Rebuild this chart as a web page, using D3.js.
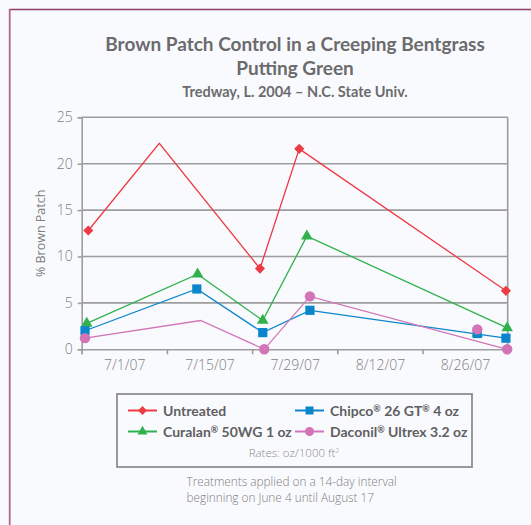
<!DOCTYPE html>
<html>
<head>
<meta charset="utf-8">
<script src="https://cdn.jsdelivr.net/npm/d3@7"></script>
<style>
  html, body { margin: 0; padding: 0; background: #f9fafd; }
  svg { display: block; }
  text { font-family: "Open Sans", "Noto Sans", sans-serif; }
  .hum { font-family: Lato, "Open Sans", sans-serif; }
</style>
</head>
<body>
<svg id="chart" width="531" height="525"></svg>
<script>
// ---------- data ----------
const titleLines = ["Brown Patch Control in a Creeping Bentgrass", "Putting Green"];
const subtitle = "Tredway, L. 2004 \u2013 N.C. State Univ.";
const yLabel = "% Brown Patch";
const yTicks = [0, 5, 10, 15, 20, 25];
const xLabelDates = ["2007-07-01 00", "2007-07-15 00", "2007-07-29 00", "2007-08-12 00", "2007-08-26 00"];
const xLabelText = ["7/1/07", "7/15/07", "7/29/07", "8/12/07", "8/26/07"];
const xTickDates = ["2007-06-24 00", "2007-07-08 00", "2007-07-22 00", "2007-08-05 00", "2007-08-19 00", "2007-09-02 00"];
const xDomain = ["2007-06-24 00", "2007-09-02 00"];

const untreatedDates = ["2007-06-25 02", "2007-07-06 18", "2007-07-23 07", "2007-07-29 18", "2007-09-01 17"];
const untreatedValues = [12.8, 22.2, 8.7, 21.6, 6.3];
const untreatedMarked = [true, false, true, true, true];

const curalanDates = ["2007-06-24 20", "2007-07-13 01", "2007-07-23 18", "2007-07-31 00", "2007-09-01 22"];
const curalanValues = [2.8, 8.1, 3.1, 12.2, 2.3];
const curalanMarked = [true, true, true, true, true];

const chipcoDates = ["2007-06-24 13", "2007-07-12 22", "2007-07-23 18", "2007-07-31 12", "2007-09-01 17"];
const chipcoValues = [2.0, 6.5, 1.8, 4.2, 1.2];
const chipcoMarked = [true, true, true, true, true];

const daconilDates = ["2007-06-24 13", "2007-07-13 13", "2007-07-24 00", "2007-07-31 12", "2007-09-01 22"];
const daconilValues = [1.2, 3.1, 0, 5.7, 0];
const daconilMarked = [true, false, true, true, true];

// stray markers (no line through them) near 8/28
const extraDates = ["2007-08-28 00", "2007-08-28 00", "2007-08-28 00"];
const extraSeries = ["curalan", "chipco", "daconil"];
const extraValues = [1.7, 1.7, 2.15];

const legendNames = ["Untreated", "Chipco\u00AE 26 GT\u00AE 4 oz", "Curalan\u00AE 50WG 1 oz", "Daconil\u00AE Ultrex 3.2 oz"];
const legendKeys = ["untreated", "chipco", "curalan", "daconil"];
const ratesNote = "Rates: oz/1000 ft";
const footnote = ["Treatments applied on a 14-day interval", "beginning on June 4 until August 17"];

// ---------- setup ----------
const parse = d3.timeParse("%Y-%m-%d %H");
const colors = { untreated: "#ee3a45", curalan: "#2fb24c", chipco: "#0b86cc", daconil: "#d274b6" };
const symbols = { untreated: d3.symbolDiamond2, curalan: d3.symbolTriangle, chipco: d3.symbolSquare, daconil: d3.symbolCircle };
const symSize = { untreated: 66, curalan: 58, chipco: 85, daconil: 85 };

const series = [
  { key: "untreated", dates: untreatedDates, values: untreatedValues, marked: untreatedMarked },
  { key: "curalan", dates: curalanDates, values: curalanValues, marked: curalanMarked },
  { key: "chipco", dates: chipcoDates, values: chipcoValues, marked: chipcoMarked },
  { key: "daconil", dates: daconilDates, values: daconilValues, marked: daconilMarked }
];

const svg = d3.select("#chart");
const W = 531, H = 525;

// background decorations
const defs = svg.append("defs");
const rg = defs.append("radialGradient").attr("id", "greenblob").attr("cx", "0.75").attr("cy", "0.9").attr("r", "0.6");
rg.append("stop").attr("offset", "0").attr("stop-color", "#a8d08a").attr("stop-opacity", 0.85);
rg.append("stop").attr("offset", "0.6").attr("stop-color", "#cfe6bd").attr("stop-opacity", 0.45);
rg.append("stop").attr("offset", "1").attr("stop-color", "#f9fafd").attr("stop-opacity", 0);
svg.append("rect").attr("width", W).attr("height", H).attr("fill", "#f9fafd");
svg.append("ellipse").attr("cx", 520).attr("cy", 540).attr("rx", 110).attr("ry", 40).attr("fill", "url(#greenblob)");

// frame (maroon)
svg.append("line").attr("x1", 9.5).attr("y1", 9.5).attr("x2", W + 2).attr("y2", 9.5)
  .attr("stroke", "#8e3e66").attr("stroke-width", 1.5);
svg.append("line").attr("x1", 9.7).attr("y1", 9).attr("x2", 9.7).attr("y2", H + 2)
  .attr("stroke", "#b3638d").attr("stroke-width", 1.8);

// titles
svg.append("text").attr("class", "hum").attr("x", 295).attr("y", 51).attr("text-anchor", "middle")
  .attr("font-size", 19).attr("font-weight", 700).attr("fill", "#6b6b6d").text(titleLines[0]);
svg.append("text").attr("class", "hum").attr("x", 295).attr("y", 75).attr("text-anchor", "middle")
  .attr("font-size", 19).attr("font-weight", 700).attr("fill", "#6b6b6d").text(titleLines[1]);
svg.append("text").attr("class", "hum").attr("x", 295).attr("y", 96.5).attr("text-anchor", "middle")
  .attr("font-size", 14.5).attr("font-weight", 700).attr("fill", "#6b6b6d").text(subtitle);

// scales
const pLeft = 81.7, pRight = 507.7, pTop = 117.3, pBottom = 349.3;
const x = d3.scaleTime().domain(xDomain.map(parse)).range([pLeft, pRight]);
const y = d3.scaleLinear().domain([0, 25]).range([pBottom, pTop]);

const plot = svg.append("g");

// gridlines
plot.append("g").selectAll("line").data(yTicks.filter(d => d > 0)).join("line")
  .attr("x1", pLeft).attr("x2", pRight).attr("y1", d => y(d)).attr("y2", d => y(d))
  .attr("stroke", "#9d9d9f").attr("stroke-width", 1.6);
// right frame line
plot.append("line").attr("x1", pRight).attr("x2", pRight).attr("y1", pTop).attr("y2", pBottom)
  .attr("stroke", "#9d9d9f").attr("stroke-width", 1.6);

// y axis
const yAxis = plot.append("g").attr("transform", `translate(${pLeft},0)`)
  .call(d3.axisLeft(y).tickValues(yTicks).tickSize(4).tickPadding(5));
yAxis.select(".domain").attr("stroke", "#9d9d9f").attr("stroke-width", 1.6);
yAxis.selectAll(".tick line").attr("stroke", "#9d9d9f").attr("stroke-width", 1.6);
yAxis.selectAll(".tick text").attr("font-size", 14).attr("fill", "#7e7e80")
  .attr("font-family", "'Open Sans', sans-serif").attr("font-weight", 300);

// x axis: tick marks
const xTickAxis = plot.append("g").attr("transform", `translate(0,${pBottom})`)
  .call(d3.axisBottom(x).tickValues(xTickDates.map(parse)).tickSize(5).tickFormat(""));
xTickAxis.select(".domain").attr("stroke", "#9d9d9f").attr("stroke-width", 1.6);
xTickAxis.selectAll(".tick line").attr("stroke", "#9d9d9f").attr("stroke-width", 1.6);
// x axis: labels centered between ticks
const xLabAxis = plot.append("g").attr("transform", `translate(0,${pBottom})`)
  .call(d3.axisBottom(x).tickValues(xLabelDates.map(parse)).tickSize(0).tickPadding(11)
    .tickFormat((d, i) => xLabelText[i]));
xLabAxis.select(".domain").remove();
xLabAxis.selectAll(".tick text").attr("font-size", 14).attr("fill", "#7e7e80")
  .attr("font-family", "'Open Sans', sans-serif").attr("font-weight", 300);

// y label
svg.append("text").attr("transform", `translate(45,${(pTop + pBottom) / 2}) rotate(-90)`)
  .attr("text-anchor", "middle").attr("font-size", 12.5).attr("fill", "#7e7e80").text(yLabel);

// lines
const lineGen = d3.line().x(d => x(d.date)).y(d => y(d.value));
series.forEach(s => {
  const pts = s.dates.map((dt, i) => ({ date: parse(dt), value: s.values[i], marked: s.marked[i] }));
  plot.append("path").datum(pts).attr("d", lineGen).attr("fill", "none")
    .attr("stroke", colors[s.key]).attr("stroke-width", 1.3);
  s.pts = pts;
});
// markers
series.forEach(s => {
  plot.append("g").selectAll("path").data(s.pts.filter(p => p.marked)).join("path")
    .attr("transform", p => `translate(${x(p.date)},${y(p.value)})`)
    .attr("d", d3.symbol().type(symbols[s.key]).size(symSize[s.key]))
    .attr("fill", colors[s.key]);
});
// stray markers
const extras = extraDates.map((dt, i) => ({ date: parse(dt), key: extraSeries[i], value: extraValues[i] }));
plot.append("g").selectAll("path").data(extras).join("path")
  .attr("transform", p => `translate(${x(p.date)},${y(p.value)})`)
  .attr("d", p => d3.symbol().type(symbols[p.key]).size(symSize[p.key])())
  .attr("fill", p => colors[p.key]);

// legend
const lg = svg.append("g");
lg.append("rect").attr("x", 117).attr("y", 394).attr("width", 355).attr("height", 73)
  .attr("fill", "none").attr("stroke", "#8e8e90").attr("stroke-width", 1.8);
const legPos = [[128, 410.5], [295, 410.5], [128, 431.5], [295, 431.5]];
legendKeys.forEach((k, i) => {
  const [lx, ly] = legPos[i];
  lg.append("line").attr("x1", lx).attr("x2", lx + 29).attr("y1", ly).attr("y2", ly)
    .attr("stroke", colors[k]).attr("stroke-width", 2);
  lg.append("path").attr("transform", `translate(${lx + 14.5},${ly})`)
    .attr("d", d3.symbol().type(symbols[k]).size(symSize[k] * 0.75)).attr("fill", colors[k]);
  const t = lg.append("text").attr("class", "hum").attr("x", lx + 35).attr("y", ly + 5).attr("font-size", 14)
    .attr("font-weight", 700).attr("fill", "#5f5f62");
  // registered marks as small superscripts
  let pendingDy = 0;
  legendNames[i].split(/(\u00AE)/).forEach(part => {
    if (part === "\u00AE") {
      t.append("tspan").attr("font-size", 9).attr("dy", -4).text(part);
      pendingDy = 4;
    } else if (part) {
      const ts = t.append("tspan").text(part);
      if (pendingDy) { ts.attr("dy", pendingDy); pendingDy = 0; }
    }
  });
});
const rt = lg.append("text").attr("x", 294).attr("y", 457).attr("text-anchor", "middle")
  .attr("font-size", 11.5).attr("fill", "#8a8a8c").attr("font-weight", 300);
rt.append("tspan").text(ratesNote);
rt.append("tspan").attr("font-size", 7).attr("dy", -4).text("2");

// footnote
footnote.forEach((t, i) => {
  svg.append("text").attr("x", 186.5).attr("y", 485.5 + i * 16).attr("font-size", 11.8)
    .attr("fill", "#7e7e80").attr("font-weight", 300).text(t);
});
</script>
</body>
</html>
